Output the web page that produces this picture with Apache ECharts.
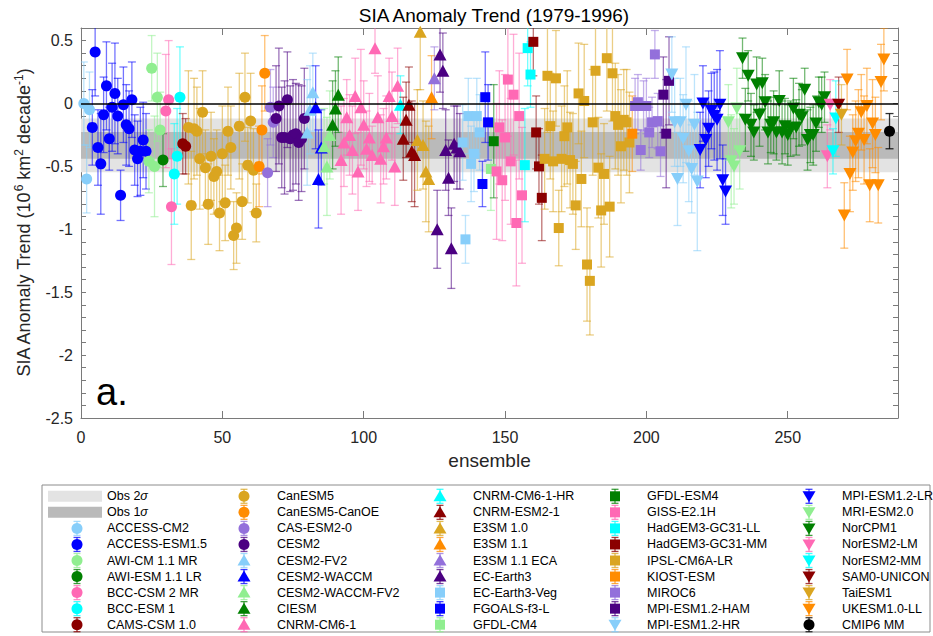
<!DOCTYPE html>
<html><head><meta charset="utf-8">
<script src="https://cdn.jsdelivr.net/npm/echarts@6/dist/echarts.min.js"></script>
<style>html,body{margin:0;padding:0;background:#fff}#chart{width:933px;height:636px}</style>
</head><body><div id="chart"></div>
<script>
// ---------------- DATA ----------------
const TITLE = 'SIA Anomaly Trend (1979-1996)';
const X_NAME = 'ensemble';
const X_MIN = 0, X_MAX = 289, X_STEP = 50;
const Y_MIN = -2.5, Y_MAX = 0.6, Y_STEP = 0.5;
const OBS_TREND = -0.333, OBS_SIGMA = 0.107;
const PANEL_LABEL = 'a.';

const MODEL_NAMES = ['ACCESS-CM2','ACCESS-ESM1.5','AWI-CM 1.1 MR','AWI-ESM 1.1 LR','BCC-CSM 2 MR','BCC-ESM 1','CAMS-CSM 1.0',
 'CanESM5','CanESM5-CanOE','CAS-ESM2-0','CESM2','CESM2-FV2','CESM2-WACCM','CESM2-WACCM-FV2','CIESM','CNRM-CM6-1',
 'CNRM-CM6-1-HR','CNRM-ESM2-1','E3SM 1.0','E3SM 1.1','E3SM 1.1 ECA','EC-Earth3','EC-Earth3-Veg','FGOALS-f3-L','GFDL-CM4',
 'GFDL-ESM4','GISS-E2.1H','HadGEM3-GC31-LL','HadGEM3-GC31-MM','IPSL-CM6A-LR','KIOST-ESM','MIROC6','MPI-ESM1.2-HAM',
 'MPI-ESM1.2-HR','MPI-ESM1.2-LR','MRI-ESM2.0','NorCPM1','NorESM2-LM','NorESM2-MM','SAM0-UNICON','TaiESM1','UKESM1.0-LL','CMIP6 MM'];

const V_ACCESS_CM2 = [0.00, -0.60, -0.05];
const E_ACCESS_CM2 = [0.33, 0.27, 0.30];
const V_ACCESS_ESM15 = [-0.19, 0.41, -0.35, -0.48, -0.09, 0.14, -0.28, -0.03, 0.08, -0.10, -0.73, -0.01, -0.17, -0.20, 0.03, -0.37, -0.44, -0.38, -0.29, -0.38];
const E_ACCESS_ESM15 = [0.30, 0.35, 0.30, 0.40, 0.30, 0.35, 0.25, 0.35, 0.40, 0.30, 0.20, 0.30, 0.32, 0.30, 0.30, 0.28, 0.30, 0.35, 0.30, 0.30];
const V_AWI_CM = [-0.46, 0.28, -0.50, 0.05, -0.21];
const E_AWI_CM = [0.25, 0.26, 0.40, 0.35, 0.30];
const V_AWI_ESM = [-0.45];
const E_AWI_ESM = [0.21];
const V_BCC_CSM2 = [-0.06, 0.03, -0.82];
const E_BCC_CSM2 = [0.45, 0.47, 0.46];
const V_BCC_ESM1 = [-0.56, -0.42, 0.05];
const E_BCC_ESM1 = [0.40, 0.38, 0.40];
const V_CAMS = [-0.32, -0.34];
const E_CAMS = [0.24, 0.22];
const V_CANESM5 = [-0.19, -0.81, -0.20, -0.22, -0.44, -0.07, -0.51, -0.80, -0.42, -0.58, -0.54, -0.87, -0.40, -0.79, -0.22, -0.35, -1.05, -0.99, -0.18, -0.78, 0.05, -0.49, -0.14, -0.53, -0.87];
const E_CANESM5 = [0.45, 0.43, 0.40, 0.35, 0.40, 0.33, 0.30, 0.32, 0.35, 0.30, 0.33, 0.30, 0.38, 0.30, 0.35, 0.33, 0.27, 0.28, 0.42, 0.30, 0.35, 0.30, 0.38, 0.33, 0.23];
const V_CANOE = [-0.50, -0.21, 0.24];
const E_CANOE = [0.32, 0.35, 0.30];
const V_CAS_ESM2 = [-0.55, -0.03, -0.15];
const E_CAS_ESM2 = [0.27, 0.30, 0.28];
const V_CESM2 = [-0.12, -0.02, -0.27, -0.27, 0.03, -0.28, -0.25, -0.24, -0.31, -0.28, -0.12];
const E_CESM2 = [0.42, 0.46, 0.40, 0.45, 0.38, 0.42, 0.44, 0.40, 0.46, 0.42, 0.40];
const V_CESM2_FV2 = [-0.23, -0.05, 0.09];
const E_CESM2_FV2 = [0.42, 0.35, 0.31];
const V_CESM2_WACCM = [-0.03, -0.60, -0.35];
const E_CESM2_WACCM = [0.33, 0.39, 0.30];
const V_CESM2_WACCM_FV2 = [-0.34, -0.50, -0.25];
const E_CESM2_WACCM_FV2 = [0.30, 0.39, 0.35];
const V_CIESM = [-0.17, -0.04, 0.07];
const E_CIESM = [0.35, 0.30, 0.30];
const V_CNRM_CM6 = [-0.45, -0.31, -0.11, -0.25, -0.37, 0.06, -0.54, -0.03, -0.17, -0.36, -0.27, -0.41, 0.44, -0.11, -0.44, -0.34, -0.27, 0.06, -0.10, -0.50, 0.14];
const E_CNRM_CM6 = [0.43, 0.35, 0.30, 0.32, 0.35, 0.30, 0.31, 0.46, 0.35, 0.30, 0.35, 0.23, 0.20, 0.33, 0.35, 0.30, 0.33, 0.30, 0.35, 0.31, 0.30];
const V_CNRM_CM6_HR = [-0.01];
const E_CNRM_CM6_HR = [0.23];
const V_CNRM_ESM2 = [-0.28, -0.13, -0.01, -0.38, -0.41];
const E_CNRM_ESM2 = [0.33, 0.30, 0.30, 0.40, 0.41];
const V_E3SM10 = [-0.29, 0.57, -0.33, -0.54, -0.60];
const E_E3SM10 = [0.40, 0.46, 0.35, 0.40, 0.42];
const V_E3SM11 = [0.05];
const E_E3SM11 = [0.33];
const V_E3SM11_ECA = [0.20];
const E_E3SM11_ECA = [0.25];
const V_EC_EARTH3 = [-1.00, 0.39, 0.26, -0.37, -0.59, -1.15, -0.32, -0.35, -0.38];
const E_EC_EARTH3 = [0.31, 0.30, 0.30, 0.32, 0.30, 0.32, 0.30, 0.33, 0.30];
const V_EC_EARTH3_VEG = [-0.31, -1.08, -0.10, -0.48, -0.40, -0.10, -0.23];
const E_EC_EARTH3_VEG = [0.30, 0.19, 0.30, 0.30, 0.30, 0.30, 0.30];
const V_FGOALS = [-0.64, 0.05, -0.15];
const E_FGOALS = [0.18, 0.36, 0.30];
const V_GFDL_CM4 = [-0.52];
const E_GFDL_CM4 = [0.33];
const V_GFDL_ESM4 = [-0.30];
const E_GFDL_ESM4 = [0.45];
const V_GISS = [-0.54, -0.19, -0.61, -0.27, 0.19, -0.46, 0.07, -0.95, -0.10, -0.73];
const E_GISS = [0.54, 0.45, 0.48, 0.50, 0.45, 0.50, 0.48, 0.50, 0.50, 0.54];
const V_HADGEM_LL = [-0.49, 0.44, 0.23];
const E_HADGEM_LL = [0.45, 0.30, 0.26];
const V_HADGEM_MM = [0.49, -0.23, -0.50, -0.75];
const E_HADGEM_MM = [0.27, 0.29, 0.30, 0.34];
const V_IPSL = [-0.44, 0.22, -0.18, -0.46, 0.20, -0.99, -0.44, -0.26, -0.19, -0.45, -0.48, -0.81, 0.08, -0.60, 0.02, -1.28, -1.41, -0.15, 0.26, -0.51, -0.85, -0.56, 0.36, -0.82, 0.24, -0.10, -0.17, -0.34, -0.13, -0.15, -0.31];
const E_IPSL = [0.40, 0.45, 0.42, 0.40, 0.38, 0.30, 0.42, 0.40, 0.45, 0.38, 0.40, 0.35, 0.40, 0.38, 0.45, 0.45, 0.43, 0.42, 0.38, 0.40, 0.45, 0.40, 0.42, 0.40, 0.38, 0.42, 0.40, 0.45, 0.40, 0.42, 0.40];
const V_KIOST = [-0.24];
const E_KIOST = [0.30];
const V_MIROC6 = [-0.02, 0.01, -0.37, -0.02, -0.02, -0.23, -0.15, 0.39, -0.14, -0.38];
const E_MIROC6 = [0.22, 0.22, 0.16, 0.20, 0.22, 0.20, 0.20, 0.19, 0.22, 0.20];
const V_MPI_HAM = [0.07, -0.24, 0.18];
const E_MPI_HAM = [0.30, 0.43, 0.35];
const V_MPI_HR = [0.23, -0.15, -0.60, -0.15, -0.28, -0.01, -0.38, -0.52, -0.17, -0.62];
const E_MPI_HR = [0.30, 0.35, 0.37, 0.35, 0.35, 0.46, 0.40, 0.35, 0.40, 0.55];
const V_MPI_LR = [-0.37, 0.00, -0.29, -0.20, -0.06, -0.10, -0.13, -0.01, -0.61, -0.70];
const E_MPI_LR = [0.30, 0.30, 0.30, 0.30, 0.30, 0.35, 0.40, 0.43, 0.28, 0.26];
const V_MRI = [-0.15, -0.46, -0.50, -0.04, -0.38];
const E_MRI = [0.30, 0.37, 0.30, 0.32, 0.30];
const V_NORCPM1 = [0.36, -0.13, 0.22, -0.17, -0.23, 0.15, -0.09, 0.16, 0.01, -0.23, -0.17, -0.15, -0.23, 0.02, -0.23, -0.18, -0.25, -0.20, -0.04, -0.19, -0.09, -0.11, 0.11, -0.29, -0.25, -0.25, -0.16, 0.01, -0.01, 0.05];
const E_NORCPM1 = [0.16, 0.25, 0.20, 0.25, 0.22, 0.22, 0.25, 0.20, 0.22, 0.25, 0.22, 0.25, 0.22, 0.24, 0.25, 0.22, 0.24, 0.22, 0.24, 0.22, 0.25, 0.22, 0.17, 0.24, 0.22, 0.24, 0.22, 0.20, 0.22, 0.20];
const V_NORESM2_LM = [-0.42, -0.01];
const E_NORESM2_LM = [0.25, 0.20];
const V_NORESM2_MM = [-0.38, -0.12];
const E_NORESM2_MM = [0.18, 0.30];
const V_SAM0 = [-0.01];
const E_SAM0 = [0.22];
const V_TAIESM1 = [-0.09];
const E_TAIESM1 = [0.24];
const V_UKESM = [-0.89, 0.19, -0.56, -0.39, -0.30, -0.24, -0.07, -0.29, -0.02, -0.65, -0.16, -0.25, -0.65, 0.17, 0.35];
const E_UKESM = [0.26, 0.24, 0.30, 0.30, 0.32, 0.35, 0.30, 0.35, 0.30, 0.29, 0.35, 0.30, 0.30, 0.30, 0.25];
const V_CMIP6_MM = [-0.22];
const E_CMIP6_MM = [0.14];

const MODEL_VALUES = [V_ACCESS_CM2, V_ACCESS_ESM15, V_AWI_CM, V_AWI_ESM, V_BCC_CSM2, V_BCC_ESM1, V_CAMS, V_CANESM5, V_CANOE, V_CAS_ESM2,
 V_CESM2, V_CESM2_FV2, V_CESM2_WACCM, V_CESM2_WACCM_FV2, V_CIESM, V_CNRM_CM6, V_CNRM_CM6_HR, V_CNRM_ESM2, V_E3SM10, V_E3SM11, V_E3SM11_ECA,
 V_EC_EARTH3, V_EC_EARTH3_VEG, V_FGOALS, V_GFDL_CM4, V_GFDL_ESM4, V_GISS, V_HADGEM_LL, V_HADGEM_MM, V_IPSL, V_KIOST, V_MIROC6, V_MPI_HAM,
 V_MPI_HR, V_MPI_LR, V_MRI, V_NORCPM1, V_NORESM2_LM, V_NORESM2_MM, V_SAM0, V_TAIESM1, V_UKESM, V_CMIP6_MM];
const MODEL_ERRORS = [E_ACCESS_CM2, E_ACCESS_ESM15, E_AWI_CM, E_AWI_ESM, E_BCC_CSM2, E_BCC_ESM1, E_CAMS, E_CANESM5, E_CANOE, E_CAS_ESM2,
 E_CESM2, E_CESM2_FV2, E_CESM2_WACCM, E_CESM2_WACCM_FV2, E_CIESM, E_CNRM_CM6, E_CNRM_CM6_HR, E_CNRM_ESM2, E_E3SM10, E_E3SM11, E_E3SM11_ECA,
 E_EC_EARTH3, E_EC_EARTH3_VEG, E_FGOALS, E_GFDL_CM4, E_GFDL_ESM4, E_GISS, E_HADGEM_LL, E_HADGEM_MM, E_IPSL, E_KIOST, E_MIROC6, E_MPI_HAM,
 E_MPI_HR, E_MPI_LR, E_MRI, E_NORCPM1, E_NORESM2_LM, E_NORESM2_MM, E_SAM0, E_TAIESM1, E_UKESM, E_CMIP6_MM];

// ---------------- STYLE ----------------
const FONT = "'Liberation Sans', Arial, Helvetica, sans-serif";
const PALETTE = ['#87CEFA','#0000FF','#90EE90','#008000','#FF69B4','#00FFFF','#8B0000','#DAA520','#FF8C00','#9370DB','#4B0082'];
const SHAPES = ['circle','up','square','down'];
const MM_INDEX = MODEL_NAMES.length - 1;
function modelColor(i){ return i === MM_INDEX ? '#000000' : PALETTE[i % 11]; }
function modelShape(i){ return i === MM_INDEX ? 'circle' : SHAPES[Math.floor(i / 11)]; }
const AXIS_COLOR = '#7a7a7a';
const TEXT_COLOR = '#262626';

// build ensemble index by running count
const seriesData = [];
let run = 0;
MODEL_VALUES.forEach((vals, i) => {
  if (i === MM_INDEX) run += 1;
  const pts = vals.map((v, k) => { run += 1; return [run, v, MODEL_ERRORS[i][k]]; });
  seriesData.push(pts);
});

const series = [];
// observation bands
series.push({
  type: 'custom', name: 'Obs', silent: true, z: 1,
  data: [[OBS_TREND - 2 * OBS_SIGMA, OBS_TREND + 2 * OBS_SIGMA, 0], [OBS_TREND - OBS_SIGMA, OBS_TREND + OBS_SIGMA, 1]],
  encode: { x: 2, y: [0, 1] },
  renderItem: function (params, api) {
    const lo = api.value(0), hi = api.value(1), k = api.value(2);
    const cs = params.coordSys;
    const y1 = api.coord([X_MIN, hi])[1], y2 = api.coord([X_MIN, lo])[1];
    return { type: 'rect', shape: { x: cs.x, y: y1, width: cs.width, height: y2 - y1 },
      style: { fill: k === 0 ? '#e3e3e3' : '#bababa' } };
  }
});

function symbolOf(shape){ return shape === 'circle' ? 'circle' : shape === 'square' ? 'rect' : 'triangle'; }
function sizeOf(shape){ return shape === 'circle' ? 11 : shape === 'square' ? 10 : [13, 12]; }

seriesData.forEach((pts, i) => {
  const color = modelColor(i), shape = modelShape(i);
  series.push({
    type: 'custom', name: MODEL_NAMES[i], silent: true, clip: true, z: 2,
    data: pts, encode: { x: 0, y: 1 },
    renderItem: function (params, api) {
      const x = api.value(0), y = api.value(1), e = api.value(2);
      const t = api.coord([x, y + e]), b = api.coord([x, y - e]);
      const hw = 4;
      const st = { stroke: color, lineWidth: 1.3, opacity: i === MM_INDEX ? 0.8 : 0.55 };
      return { type: 'group', children: [
        { type: 'line', shape: { x1: t[0], y1: t[1], x2: b[0], y2: b[1] }, style: st },
        { type: 'line', shape: { x1: t[0] - hw, y1: t[1], x2: t[0] + hw, y2: t[1] }, style: st },
        { type: 'line', shape: { x1: b[0] - hw, y1: b[1], x2: b[0] + hw, y2: b[1] }, style: st }
      ]};
    }
  });
  const sc = {
    type: 'scatter', name: MODEL_NAMES[i], silent: true, z: 2,
    data: pts.map(p => [p[0], p[1]]),
    symbol: symbolOf(shape), symbolSize: sizeOf(shape), symbolRotate: shape === 'down' ? 180 : 0,
    itemStyle: { color: color, opacity: 1 }
  };
  if (i === MM_INDEX) {
    sc.markLine = { silent: true, symbol: 'none', label: { show: false }, animation: false,
      lineStyle: { color: '#000', width: 1.5, type: 'solid' }, data: [{ yAxis: 0 }] };
  }
  series.push(sc);
});

// ---------------- LEGEND (graphic) ----------------
const LEG_ICON_X = [77, 244, 440, 615, 809];
const LEG_TEXT_X = [107, 277, 473, 647, 842];
const LEG_ROW_Y0 = 496.3, LEG_ROW_DY = 16.05;
const legendEls = [];
legendEls.push({ type: 'rect', shape: { x: 42, y: 485, width: 888, height: 147 },
  style: { fill: '#fff', stroke: '#8c8c8c', lineWidth: 1 }, z: 100 });
function legText(x, y, txt, rich) {
  return { type: 'text', z: 101, style: { x: x, y: y, text: txt, font: '12.5px ' + FONT, fill: '#000',
    textVerticalAlign: 'middle', verticalAlign: 'middle', textAlign: 'left', align: 'left', rich: rich } };
}
[['Obs 2{i|σ}', '#e3e3e3'], ['Obs 1{i|σ}', '#bababa']].forEach((o, r) => {
  const cy = LEG_ROW_Y0 + r * LEG_ROW_DY;
  legendEls.push({ type: 'rect', z: 101, shape: { x: 48, y: cy - 5.5, width: 54, height: 11 }, style: { fill: o[1] } });
  legendEls.push(legText(LEG_TEXT_X[0], cy, o[0], { i: { fontStyle: 'italic', fontSize: 12.5, fontFamily: FONT } }));
});
MODEL_NAMES.forEach((name, i) => {
  const slot = i + 2;
  const col = Math.floor(slot / 9), row = slot % 9;
  const cx = LEG_ICON_X[col], cy = LEG_ROW_Y0 + row * LEG_ROW_DY;
  const color = modelColor(i), shape = modelShape(i);
  const st = { stroke: color, lineWidth: 1.3, opacity: 0.75 };
  legendEls.push({ type: 'line', z: 101, shape: { x1: cx, y1: cy - 7, x2: cx, y2: cy + 7 }, style: st });
  legendEls.push({ type: 'line', z: 101, shape: { x1: cx - 3.5, y1: cy - 7, x2: cx + 3.5, y2: cy - 7 }, style: st });
  legendEls.push({ type: 'line', z: 101, shape: { x1: cx - 3.5, y1: cy + 7, x2: cx + 3.5, y2: cy + 7 }, style: st });
  let mk;
  if (shape === 'circle') mk = { type: 'circle', shape: { cx: cx, cy: cy, r: 5.5 } };
  else if (shape === 'square') mk = { type: 'rect', shape: { x: cx - 5, y: cy - 5, width: 10, height: 10 } };
  else if (shape === 'up') mk = { type: 'polygon', shape: { points: [[cx, cy - 6], [cx - 6.5, cy + 5], [cx + 6.5, cy + 5]] } };
  else mk = { type: 'polygon', shape: { points: [[cx - 6.5, cy - 5], [cx + 6.5, cy - 5], [cx, cy + 6]] } };
  mk.style = { fill: color }; mk.z = 102;
  legendEls.push(mk);
  legendEls.push(legText(LEG_TEXT_X[col], cy, name));
});
legendEls.push({ type: 'text', z: 50, style: { x: 96, y: 392, text: PANEL_LABEL, font: '38px ' + FONT, fill: '#000',
  textVerticalAlign: 'middle', verticalAlign: 'middle' } });

function yLabel(v) {
  const r = Math.round(v * 10) / 10;
  if (r > Y_MAX - 0.05) return '';
  if (Math.abs(r / Y_STEP - Math.round(r / Y_STEP)) > 1e-6) return '';
  return String(r);
}

const axisLineStyle = { color: AXIS_COLOR, width: 1 };
const option = {
  animation: false,
  backgroundColor: '#fff',
  title: { text: TITLE, left: 489, top: 1, textAlign: 'center',
    textStyle: { fontFamily: FONT, fontSize: 19, fontWeight: 'normal', color: '#000' } },
  grid: { left: 81, right: 35, top: 28, bottom: 218 },
  xAxis: [
    { type: 'value', position: 'bottom', min: X_MIN, max: X_MAX, interval: X_STEP,
      axisLine: { show: true, onZero: false, lineStyle: axisLineStyle },
      axisTick: { show: true, inside: true, length: 7, lineStyle: axisLineStyle },
      axisLabel: { fontFamily: FONT, fontSize: 16, color: TEXT_COLOR, margin: 11, showMaxLabel: false },
      splitLine: { show: false },
      name: X_NAME, nameLocation: 'middle', nameGap: 33,
      nameTextStyle: { fontFamily: FONT, fontSize: 19, color: TEXT_COLOR } },
    { type: 'value', position: 'top', min: X_MIN, max: X_MAX, interval: X_STEP,
      axisLine: { show: true, onZero: false, lineStyle: axisLineStyle },
      axisTick: { show: true, inside: true, length: 7, lineStyle: axisLineStyle },
      axisLabel: { show: false }, splitLine: { show: false } }
  ],
  yAxis: [
    { type: 'value', position: 'left', min: Y_MIN, max: Y_MAX, interval: 0.1,
      axisLine: { show: true, onZero: false, lineStyle: axisLineStyle },
      axisTick: { show: true, inside: true, length: 5, lineStyle: axisLineStyle },
      axisLabel: { fontFamily: FONT, fontSize: 16, color: TEXT_COLOR, margin: 8, formatter: yLabel, showMaxLabel: false },
      splitLine: { show: false },
      name: 'SIA Anomaly Trend (10{s|6} km{s|2} decade{s|-1})', nameLocation: 'middle', nameGap: 46,
      nameTextStyle: { fontFamily: FONT, fontSize: 18, color: TEXT_COLOR, lineHeight: 22,
        rich: { s: { fontFamily: FONT, fontSize: 12, color: TEXT_COLOR, verticalAlign: 'top', lineHeight: 22 } } } },
    { type: 'value', position: 'right', min: Y_MIN, max: Y_MAX, interval: 0.1,
      axisLine: { show: true, onZero: false, lineStyle: axisLineStyle },
      axisTick: { show: true, inside: true, length: 5, lineStyle: axisLineStyle },
      axisLabel: { show: false }, splitLine: { show: false } }
  ],
  graphic: { elements: legendEls },
  series: series
};

const chart = echarts.init(document.getElementById('chart'), null, { renderer: 'svg' });
chart.setOption(option);
</script>
</body></html>
